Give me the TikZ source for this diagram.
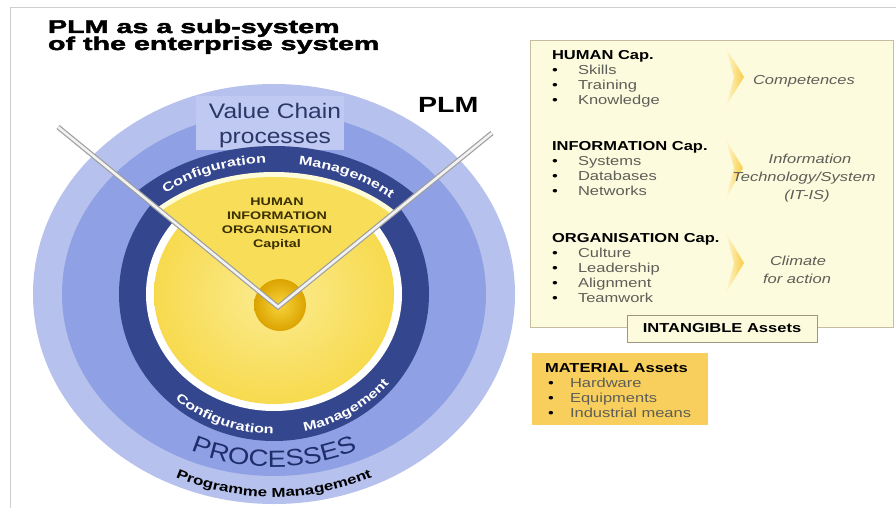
\documentclass[tikz,border=0pt]{standalone}
\usepackage{fontspec}
\setmainfont{Liberation Sans}
\newfontfamily\ttlfont{Liberation Sans}[FakeStretch=1.55,FakeBold=2.5]
\newfontfamily\lfont{Liberation Sans}[FakeStretch=1.3]
\newfontfamily\vfont{Liberation Sans}[FakeStretch=1.17]
\newfontfamily\rfont{Liberation Sans}[FakeStretch=1.27]
\usetikzlibrary{decorations.text,calc}
\definecolor{ringA}{HTML}{B6C1ED}
\definecolor{ringB}{HTML}{8FA1E4}
\definecolor{navy}{HTML}{34468D}
\definecolor{yel}{HTML}{F7DA4E}
\definecolor{yelL}{HTML}{FBEC92}
\definecolor{wedgey}{HTML}{F8DD58}
\definecolor{goldL}{HTML}{F8D43A}
\definecolor{goldD}{HTML}{DBA300}
\definecolor{boxfill}{HTML}{FDFBDD}
\definecolor{boxline}{HTML}{C6BC9E}
\definecolor{matfill}{HTML}{F8CF5C}
\definecolor{itemgray}{HTML}{5E5E58}
\definecolor{vcbox}{HTML}{C0C9F2}
\definecolor{vctext}{HTML}{2B3766}
\definecolor{proctext}{HTML}{1F2D6B}
\definecolor{wedgetext}{HTML}{3A3000}
\definecolor{framec}{HTML}{CFCFCF}
\begin{document}
\begin{tikzpicture}[x=1pt,y=1pt,
  txt/.style={inner sep=0pt,outer sep=0pt},
  hdr/.style={txt,anchor=base west,font=\fontsize{13}{15}\rfont\bfseries},
  itm/.style={txt,anchor=base west,font=\fontsize{13}{15}\rfont,text=itemgray},
  bul/.style={txt,anchor=base west,font=\fontsize{13}{15}\rfont},
  ital/.style={txt,anchor=base,font=\fontsize{13}{15}\rfont\itshape,text=itemgray},
  wtx/.style={txt,anchor=base,font=\fontsize{11}{11}\lfont\bfseries,text=wedgetext},
  chev/.style={left color=yelL!40!white,right color=yel!85!orange},
  ]
\useasboundingbox (0,0) rectangle (896,-508);
\fill[white] (0,0) rectangle (896,-508);
\draw[framec,line width=1] (10,-508) -- (10,-8) -- (896,-8);

% ---- title
\node[txt,anchor=base west,font=\fontsize{18.5}{18.5}\ttlfont\bfseries] (t1) at (48,-33) {PLM as a sub-system};
\node[txt,anchor=base west,font=\fontsize{18.5}{18.5}\ttlfont\bfseries] (t2) at (48,-50) {of the enterprise system};

% ---- rings
\coordinate (C) at (274,-294);
\fill[ringA] (C) ellipse [x radius=241, y radius=210];
\fill[ringB] (C) ellipse [x radius=212, y radius=182];
\fill[vcbox] (196,-96) rectangle (344,-150);
\fill[navy] (C) ellipse [x radius=155, y radius=147];
\fill[white] (C) ellipse [x radius=128, y radius=117];
\shade[inner color=yelL, outer color=yel] (C) ellipse [x radius=120, y radius=110];

% ---- exploded sector inside the V
\coordinate (vl) at (58,-127);
\coordinate (vv) at (278,-307);
\coordinate (vr) at (492,-133);
\begin{scope}
  \clip (vv) -- (vl) -- (vr) -- cycle;
  \fill[navy] (C) ellipse [x radius=190, y radius=148];
  \fill[white!85!yellow] (C) ellipse [x radius=165, y radius=122];
  \fill[wedgey] (C) ellipse [x radius=160, y radius=117];
\end{scope}

\node[circle,minimum size=52,inner sep=0,inner color=goldL,outer color=goldD] (core) at (280,-305) {};

\draw[gray!75,line width=5,line join=miter] (vl) -- (vv) -- (vr);
\draw[white!90!gray,line width=2.6,line join=miter] (vl) -- (vv) -- (vr);

% ---- circle texts
\node[txt,anchor=base west,font=\fontsize{22}{22}\lfont\bfseries] (plm) at (418,-113) {PLM};
\node[txt,anchor=base,font=\fontsize{21}{21}\vfont,text=vctext] (vc1) at (275,-118) {Value Chain};
\node[txt,anchor=base,font=\fontsize{21}{21}\vfont,text=vctext] (vc2) at (275,-143) {processes};

\node[wtx] (w1) at (277,-205) {HUMAN};
\node[wtx] (w2) at (277,-219) {INFORMATION};
\node[wtx] (w3) at (277,-233) {ORGANISATION};
\node[wtx] (w4) at (277,-247) {Capital};

\path[decorate,decoration={text along path,text align=center,
  text={|\fontsize{12.5}{12.5}\lfont\bfseries\color{white}|Configuration}}]
  ($(C)+(136:170pt and 131pt)$) arc[start angle=136,end angle=87,x radius=170,y radius=131];
\path[decorate,decoration={text along path,text align=center,
  text={|\fontsize{12.5}{12.5}\lfont\bfseries\color{white}|Management}}]
  ($(C)+(85:170pt and 131pt)$) arc[start angle=85,end angle=43,x radius=170,y radius=131];

\path[decorate,decoration={text along path,text align=center,
  text={|\fontsize{12.5}{12.5}\lfont\bfseries\color{white}|Configuration}}]
  ($(C)+(212:150pt and 140pt)$) arc[start angle=212,end angle=286,x radius=150,y radius=140];
\path[decorate,decoration={text along path,text align=center,
  text={|\fontsize{12.5}{12.5}\lfont\bfseries\color{white}|Management}}]
  ($(C)+(280:150pt and 140pt)$) arc[start angle=280,end angle=322,x radius=150,y radius=140];

\path[decorate,decoration={text along path,text align=center,
  text={|\fontsize{23.5}{23.5}\vfont\color{proctext}|PROCESSES}}]
  ($(C)+(225:195pt and 173pt)$) arc[start angle=225,end angle=315,x radius=195,y radius=173];

\path[decorate,decoration={text along path,text align=center,
  text={|\fontsize{13}{13}\lfont\bfseries|Programme Management}}]
  ($(C)+(225:228pt and 203pt)$) arc[start angle=225,end angle=315,x radius=228,y radius=203];

% ---- right panel
\node[draw=boxline,fill=boxfill,line width=1,minimum width=363,minimum height=287,inner sep=0,anchor=north west] (intang) at (530,-40) {};

\shade[chev] (726,-48) -- (744,-77) -- (726,-106) -- (734,-77) -- cycle;
\shade[chev] (726,-140) -- (743,-168) -- (726,-198) -- (734,-168) -- cycle;
\shade[chev] (726,-233) -- (744,-263) -- (726,-293) -- (734,-263) -- cycle;

\node[hdr] (h1) at (552,-60) {HUMAN Cap.};
\node[bul] (b11) at (552,-75) {•};
\node[bul] (b12) at (552,-90) {•};
\node[bul] (b13) at (552,-105) {•};
\node[itm] (i11) at (578,-75) {Skills};
\node[itm] (i12) at (578,-90) {Training};
\node[itm] (i13) at (578,-105) {Knowledge};

\node[hdr] (h2) at (552,-150) {INFORMATION Cap.};
\node[bul] (b21) at (552,-165) {•};
\node[bul] (b22) at (552,-180) {•};
\node[bul] (b23) at (552,-195) {•};
\node[itm] (i21) at (578,-165) {Systems};
\node[itm] (i22) at (578,-180) {Databases};
\node[itm] (i23) at (578,-195) {Networks};

\node[hdr] (h3) at (552,-242) {ORGANISATION Cap.};
\node[bul] (b31) at (552,-257) {•};
\node[bul] (b32) at (552,-272) {•};
\node[bul] (b33) at (552,-287) {•};
\node[bul] (b34) at (552,-302) {•};
\node[itm] (i31) at (578,-257) {Culture};
\node[itm] (i32) at (578,-272) {Leadership};
\node[itm] (i33) at (578,-287) {Alignment};
\node[itm] (i34) at (578,-302) {Teamwork};

\node[ital] (l1) at (804,-85) {Competences};
\node[ital] (l21) at (810,-163) {Information};
\node[ital] (l22) at (804,-181) {Technology/System};
\node[ital] (l23) at (807,-199) {(IT-IS)};
\node[ital] (l31) at (798,-265) {Climate};
\node[ital] (l32) at (797,-283) {for action};

\node[draw=boxline!80!black,fill=boxfill,line width=1,minimum width=190,minimum height=27,inner sep=0,
  font=\fontsize{13}{15}\rfont\bfseries] (intbox) at (722,-328.5) {INTANGIBLE Assets};

\node[fill=matfill,minimum width=176,minimum height=72,inner sep=0,anchor=north west] (matbox) at (532,-353) {};
\node[hdr] (h4) at (545,-372) {MATERIAL Assets};
\node[bul] (b41) at (548,-387) {•};
\node[bul] (b42) at (548,-402) {•};
\node[bul] (b43) at (548,-417) {•};
\node[itm] (i41) at (570,-387) {Hardware};
\node[itm] (i42) at (570,-402) {Equipments};
\node[itm] (i43) at (570,-417) {Industrial means};
\end{tikzpicture}
\end{document}
